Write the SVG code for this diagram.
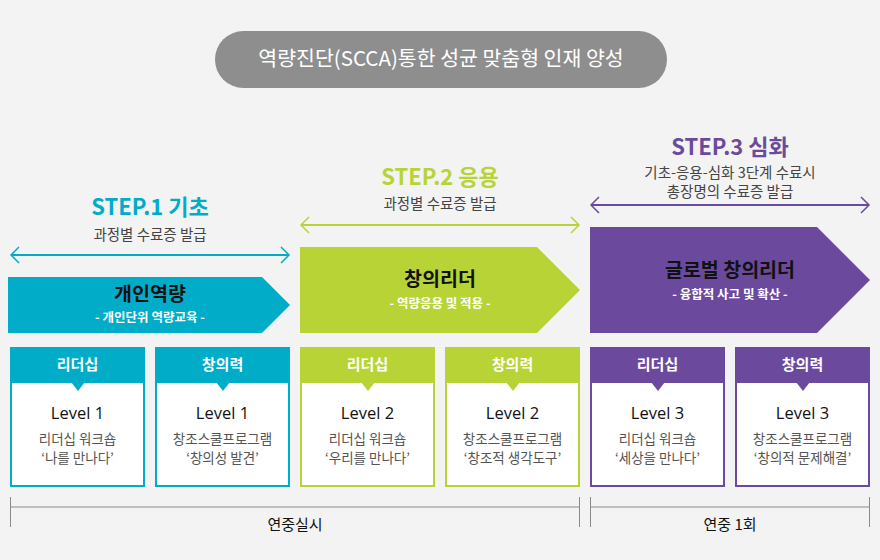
<svg xmlns="http://www.w3.org/2000/svg" width="880" height="560" viewBox="0 0 880 560">
<defs>
<style>
text{font-family:"Noto Sans CJK KR","Noto Sans",sans-serif;text-anchor:middle}
.title{font-size:20.5px;fill:#ffffff}
.step{font-size:22px;font-weight:bold}
.sub{font-size:14.5px;fill:#444444}
.main{font-size:19.5px;font-weight:bold;fill:#111111}
.mainsub{font-size:12.5px;font-weight:bold;fill:#ffffff}
.hdr{font-size:15px;font-weight:bold;fill:#ffffff}
.lvl{font-family:"Open Sans","Noto Sans",sans-serif;font-size:16.5px;fill:#111111}
.desc{font-size:13.5px;fill:#555555}
.bottom{font-size:15px;fill:#111111}
.box{fill:#ffffff;stroke-width:2}
.teal{fill:#00acc8}
.green{fill:#b8d335}
.purple{fill:#6b4a9e}
.tl{stroke:#00acc8}
.gr{stroke:#b8d335}
.pu{stroke:#6b4a9e}
.arr{fill:none;stroke-width:2}
.head{fill:none;stroke-width:1.5}
.brk{fill:none;stroke:#8a8a8a;stroke-width:1}
</style>
</defs>
<rect x="0" y="0" width="880" height="560" fill="#f3f3f3"/>

<g id="title">
<rect x="215" y="31" width="452" height="57" rx="28.5" fill="#8e8e8e"/>
<text class="title" x="441" y="66">역량진단(SCCA)통한 성균 맞춤형 인재 양성</text>
</g>

<g id="connectors">
<line class="arr tl" x1="11" y1="255" x2="289" y2="255"/>
<polyline class="head tl" points="19,247 11,255 19,263"/>
<polyline class="head tl" points="281,247 289,255 281,263"/>
<line class="arr gr" x1="301" y1="225" x2="579" y2="225"/>
<polyline class="head gr" points="309,217 301,225 309,233"/>
<polyline class="head gr" points="571,217 579,225 571,233"/>
<line class="arr pu" x1="591" y1="205" x2="869" y2="205"/>
<polyline class="head pu" points="599,197 591,205 599,213"/>
<polyline class="head pu" points="861,197 869,205 861,213"/>
<path class="brk" d="M10.5,497 V527 M10.5,507 H579.5 M579.5,497 V527"/>
<path class="brk" d="M590.5,497 V527 M590.5,507 H869.5 M869.5,497 V527"/>
</g>

<g id="step1">
<text class="step" x="150" y="215" fill="#00acc8">STEP.1 기초</text>
<text class="sub" x="150" y="240">과정별 수료증 발급</text>
<polygon class="teal" points="8,277 262,277 290,305 262,333 8,333"/>
<text class="main" x="150" y="301">개인역량</text>
<text class="mainsub" x="150" y="322">- 개인단위 역량교육 -</text>
</g>

<g id="step2">
<text class="step" x="440" y="185" fill="#b8d335">STEP.2 응용</text>
<text class="sub" x="440" y="209">과정별 수료증 발급</text>
<polygon class="green" points="300,247 537,247 580,290 537,333 300,333"/>
<text class="main" x="440" y="286">창의리더</text>
<text class="mainsub" x="440" y="308">- 역량응용 및 적용 -</text>
</g>

<g id="step3">
<text class="step" x="730" y="155" fill="#6b4a9e">STEP.3 심화</text>
<text class="sub" x="730" y="178">기초-응용-심화 3단계 수료시</text>
<text class="sub" x="730" y="197">총장명의 수료증 발급</text>
<polygon class="purple" points="590,227 817,227 870,280 817,333 590,333"/>
<text class="main" x="730" y="277">글로벌 창의리더</text>
<text class="mainsub" x="730" y="299">- 융합적 사고 및 확산 -</text>
</g>

<g id="box1">
<rect class="box tl" x="11" y="348" width="133" height="138"/>
<rect class="teal" x="10" y="347" width="135" height="36"/>
<polygon class="teal" points="71,382 85,382 78,391"/>
<text class="hdr" x="77.5" y="370">리더십</text>
<text class="lvl" x="77.5" y="419">Level 1</text>
<text class="desc" x="77.5" y="444">리더십 워크숍</text>
<text class="desc" x="77.5" y="463">‘나를 만나다’</text>
</g>
<g id="box2">
<rect class="box tl" x="156" y="348" width="133" height="138"/>
<rect class="teal" x="155" y="347" width="135" height="36"/>
<polygon class="teal" points="216,382 230,382 223,391"/>
<text class="hdr" x="222.5" y="370">창의력</text>
<text class="lvl" x="222.5" y="419">Level 1</text>
<text class="desc" x="222.5" y="444">창조스쿨프로그램</text>
<text class="desc" x="222.5" y="463">‘창의성 발견’</text>
</g>
<g id="box3">
<rect class="box gr" x="301" y="348" width="133" height="138"/>
<rect class="green" x="300" y="347" width="135" height="36"/>
<polygon class="green" points="361,382 375,382 368,391"/>
<text class="hdr" x="367.5" y="370">리더십</text>
<text class="lvl" x="367.5" y="419">Level 2</text>
<text class="desc" x="367.5" y="444">리더십 워크숍</text>
<text class="desc" x="367.5" y="463">‘우리를 만나다’</text>
</g>
<g id="box4">
<rect class="box gr" x="446" y="348" width="133" height="138"/>
<rect class="green" x="445" y="347" width="135" height="36"/>
<polygon class="green" points="506,382 520,382 513,391"/>
<text class="hdr" x="512.5" y="370">창의력</text>
<text class="lvl" x="512.5" y="419">Level 2</text>
<text class="desc" x="512.5" y="444">창조스쿨프로그램</text>
<text class="desc" x="512.5" y="463">‘창조적 생각도구’</text>
</g>
<g id="box5">
<rect class="box pu" x="591" y="348" width="133" height="138"/>
<rect class="purple" x="590" y="347" width="135" height="36"/>
<polygon class="purple" points="651,382 665,382 658,391"/>
<text class="hdr" x="657.5" y="370">리더십</text>
<text class="lvl" x="657.5" y="419">Level 3</text>
<text class="desc" x="657.5" y="444">리더십 워크숍</text>
<text class="desc" x="657.5" y="463">‘세상을 만나다’</text>
</g>
<g id="box6">
<rect class="box pu" x="736" y="348" width="133" height="138"/>
<rect class="purple" x="735" y="347" width="135" height="36"/>
<polygon class="purple" points="796,382 810,382 803,391"/>
<text class="hdr" x="802.5" y="370">창의력</text>
<text class="lvl" x="802.5" y="419">Level 3</text>
<text class="desc" x="802.5" y="444">창조스쿨프로그램</text>
<text class="desc" x="802.5" y="463">‘창의적 문제해결’</text>
</g>

<g id="bottom">
<text class="bottom" x="295" y="530">연중실시</text>
<text class="bottom" x="730" y="530">연중 1회</text>
</g>
</svg>
